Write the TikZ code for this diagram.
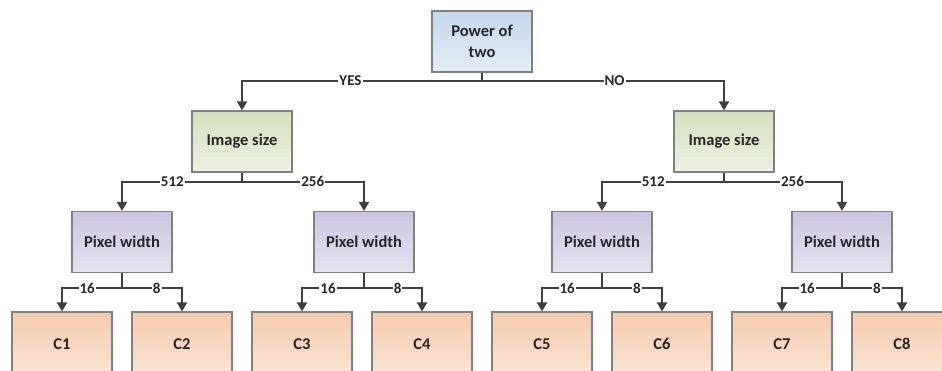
\documentclass[tikz,border=0pt]{standalone}
\usepackage{fontspec}
\setmainfont{Carlito}
\usetikzlibrary{arrows.meta}
\definecolor{bordc}{HTML}{808080}
\definecolor{linec}{HTML}{404040}
\definecolor{txtc}{HTML}{262626}
\definecolor{roottop}{RGB}{196,215,236}
\definecolor{rootbot}{RGB}{228,237,247}
\definecolor{sizetop}{RGB}{212,224,188}
\definecolor{sizebot}{RGB}{236,241,226}
\definecolor{pixtop}{RGB}{204,196,225}
\definecolor{pixbot}{RGB}{230,226,240}
\definecolor{leaftop}{RGB}{246,203,172}
\definecolor{leafbot}{RGB}{250,228,212}
\tikzset{
  box/.style={draw=bordc, line width=1.2pt, minimum width=100pt, minimum height=61pt,
    inner sep=0pt, align=center, text=txtc,
    font=\fontsize{16.5}{21}\selectfont\bfseries},
  rootbox/.style={box, top color=roottop, bottom color=rootbot},
  sizebox/.style={box, top color=sizetop, bottom color=sizebot},
  pixbox/.style={box, top color=pixtop, bottom color=pixbot},
  leafbox/.style={box, minimum height=64pt, top color=leaftop, bottom color=leafbot},
  conn/.style={draw=linec, line width=2pt, -{Triangle[width=10pt,length=9pt]}},
  lbl/.style={fill=white, inner sep=1pt, text=txtc, font=\fontsize{15}{17}\selectfont\bfseries}
}
\begin{document}
\begin{tikzpicture}[x=1pt,y=-1pt]
\useasboundingbox (0,0) rectangle (942,370);
% nodes
\node[rootbox] (root) at (482,41.5) {Power of\\two};
\node[sizebox] (is1) at (242,141.5) {Image size};
\node[sizebox] (is2) at (724,141.5) {Image size};
\node[pixbox] (pw1) at (122,242) {Pixel width};
\node[pixbox] (pw2) at (364,242) {Pixel width};
\node[pixbox] (pw3) at (602,242) {Pixel width};
\node[pixbox] (pw4) at (842,242) {Pixel width};
\node[leafbox] (c1) at (62,344) {C1};
\node[leafbox] (c2) at (182,344) {C2};
\node[leafbox] (c3) at (302,344) {C3};
\node[leafbox] (c4) at (422,344) {C4};
\node[leafbox] (c5) at (542,344) {C5};
\node[leafbox] (c6) at (662,344) {C6};
\node[leafbox] (c7) at (782,344) {C7};
\node[leafbox] (c8) at (902,344) {C8};
% connectors
\draw[conn] (root.south) -- ++(0,8) -| node[lbl,pos=0.274]{YES} (is1.north);
\draw[conn] (root.south) -- ++(0,8) -| node[lbl,pos=0.274]{NO} (is2.north);
\draw[conn] (is1.south) -- ++(0,9) -| node[lbl,pos=0.29]{512} (pw1.north);
\draw[conn] (is1.south) -- ++(0,9) -| node[lbl,pos=0.29]{256} (pw2.north);
\draw[conn] (is2.south) -- ++(0,9) -| node[lbl,pos=0.29]{512} (pw3.north);
\draw[conn] (is2.south) -- ++(0,9) -| node[lbl,pos=0.29]{256} (pw4.north);
\draw[conn] (pw1.south) -- ++(0,15) -| node[lbl,pos=0.29]{16} (c1.north);
\draw[conn] (pw1.south) -- ++(0,15) -| node[lbl,pos=0.29]{8} (c2.north);
\draw[conn] (pw2.south) -- ++(0,15) -| node[lbl,pos=0.29]{16} (c3.north);
\draw[conn] (pw2.south) -- ++(0,15) -| node[lbl,pos=0.29]{8} (c4.north);
\draw[conn] (pw3.south) -- ++(0,15) -| node[lbl,pos=0.29]{16} (c5.north);
\draw[conn] (pw3.south) -- ++(0,15) -| node[lbl,pos=0.29]{8} (c6.north);
\draw[conn] (pw4.south) -- ++(0,15) -| node[lbl,pos=0.29]{16} (c7.north);
\draw[conn] (pw4.south) -- ++(0,15) -| node[lbl,pos=0.29]{8} (c8.north);
\end{tikzpicture}
\end{document}
